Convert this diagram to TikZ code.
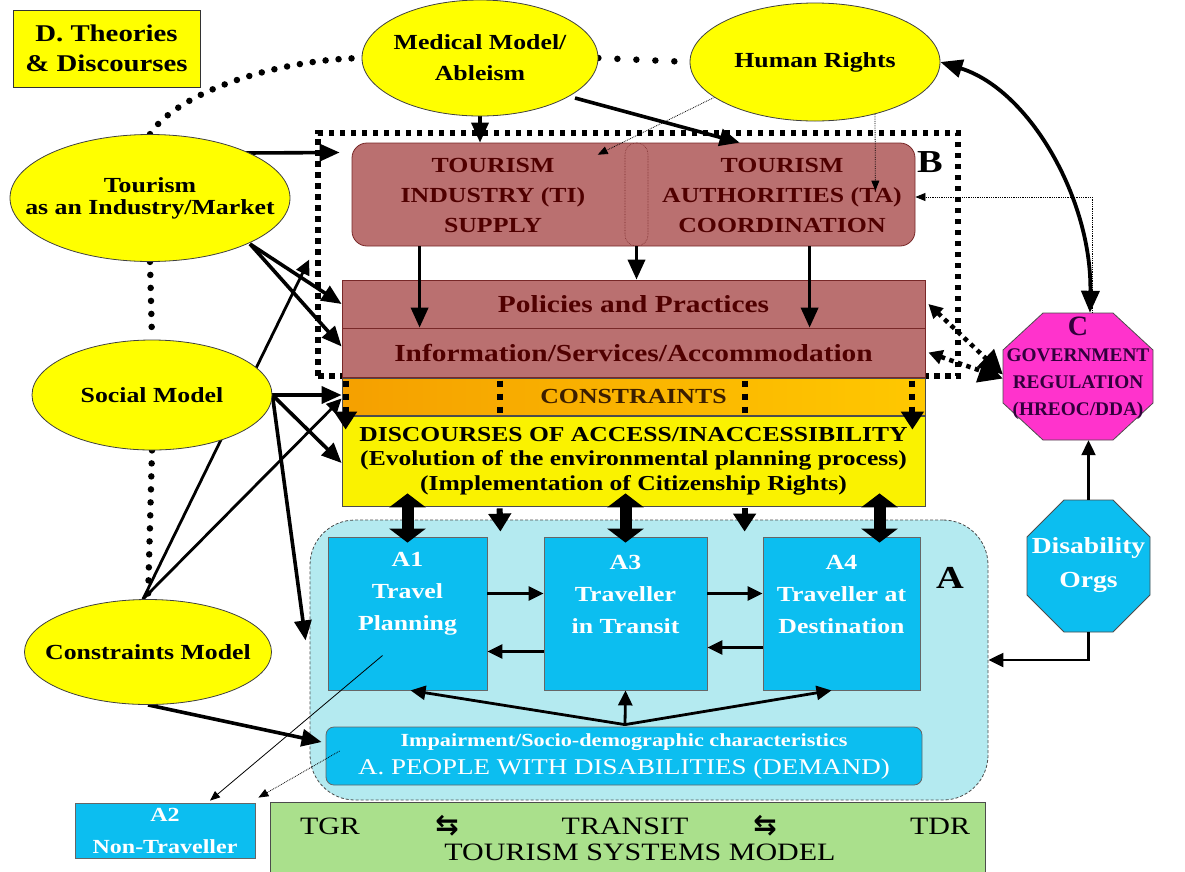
\documentclass[tikz,border=0pt]{standalone}
\usepackage{fontspec}
\setmainfont{Liberation Serif}[FakeStretch=1.2]
\newfontfamily\narrowserif{Liberation Serif}
\newfontfamily\symfont{DejaVu Sans}
\usetikzlibrary{arrows.meta,shapes.geometric,calc}
\pgfdeclarelayer{back}
\pgfdeclarelayer{mid}
\pgfsetlayers{back,mid,main}
\newcommand\myfs[2]{\fontsize{#1}{#2}\selectfont}
\definecolor{ylw}{RGB}{255,255,0}
\definecolor{rosef}{RGB}{186,112,112}
\definecolor{rosed}{RGB}{120,40,40}
\definecolor{maroontxt}{RGB}{80,0,0}
\definecolor{orngL}{RGB}{245,160,0}
\definecolor{orngR}{RGB}{255,200,0}
\definecolor{dyel}{RGB}{250,242,0}
\definecolor{lcyan}{RGB}{180,234,240}
\definecolor{cyanbox}{RGB}{12,190,240}
\definecolor{magc}{RGB}{255,51,204}
\definecolor{grnf}{RGB}{170,224,140}
\definecolor{purtxt}{RGB}{50,0,60}
\definecolor{cstxt}{RGB}{60,30,0}
\begin{document}
\begin{tikzpicture}[x=1pt,y=-1pt,
  ell/.style={ellipse,draw=black!75,line width=0.8pt,fill=ylw,inner sep=0pt},
  elltext/.style={align=center,inner sep=0pt},
  rosebox/.style={draw=rosed,line width=0.8pt,fill=rosef,inner sep=0pt,text=maroontxt,align=center},
  cbox/.style={draw=black!60,line width=0.8pt,fill=cyanbox,inner sep=0pt},
  wtext/.style={text=white,align=center,inner sep=0pt},
  fat/.style={line width=3.6pt,-{Triangle[length=20pt,width=17pt]}},
  medarrow/.style={line width=2.8pt,-{Triangle[length=15pt,width=14pt]}},
  thinarrow/.style={line width=0.8pt,-{Triangle[length=10pt,width=8pt]}},
  thindot/.style={line width=0.8pt,densely dotted,-{Triangle[length=10pt,width=8pt]}},
  bigdots/.style={line width=6.5pt,line cap=round,dash pattern=on 0pt off 13pt},
  sqdots/.style={line width=5.5pt,dash pattern=on 5.5pt off 5.5pt},
  cdots/.style={line width=6pt,dash pattern=on 6pt off 7pt},
  cdtip/.style={-{Triangle[length=18pt,width=22pt]}},
  blockarrow/.style={line width=12pt,{Triangle[length=14pt,width=36pt]}-{Triangle[length=14pt,width=36pt]}},
  cdarrow/.style={line width=4.5pt,dash pattern=on 4.5pt off 4.5pt,{Triangle[length=14pt,width=14pt]}-{Triangle[length=24pt,width=24pt]}},
]
\useasboundingbox (0,0) rectangle (1185,871);

\begin{pgfonlayer}{back}
\fill[white] (0,0) rectangle (1185,871);
% B dotted region
\node[draw,sqdots,minimum width=640,minimum height=243,inner sep=0pt] (B) at (638,254.5) {};
% A region
\node[draw=black!70,fill=lcyan,line width=0.8pt,dash pattern=on 3pt off 2pt,rounded corners=45pt,
      minimum width=678,minimum height=280,inner sep=0pt] (AR) at (649,660) {};
% Tourism industry / authorities
\node[rosebox,rounded corners=15pt,minimum width=563,minimum height=103] (TB) at (633.5,194.5) {};
\node[draw=rosed,densely dotted,line width=0.6pt,rounded corners=11pt,minimum width=23,minimum height=103,inner sep=0pt] (DV) at (636.5,194.5) {};
\node[text=maroontxt,align=center,font={\bfseries\myfs{21.5}{30}}] (TI) at (493,195) {TOURISM\\INDUSTRY (TI)\\SUPPLY};
\node[text=maroontxt,align=center,font={\bfseries\myfs{21.5}{30}}] (TA) at (782,195) {TOURISM\\AUTHORITIES (TA)\\COORDINATION};
% Policies / Information
\node[rosebox,minimum width=583,minimum height=48,font={\bfseries\myfs{24.5}{26}}] (PP) at (633.5,304) {Policies and Practices};
\node[rosebox,minimum width=583,minimum height=49,font={\bfseries\myfs{24.5}{26}}] (IS) at (633.5,352.5) {Information/Services/Accommodation};
% Constraints
\node[draw=black!70,line width=0.8pt,left color=orngL,right color=orngR,minimum width=583,minimum height=37,
      inner sep=0pt,text=cstxt,font={\bfseries\myfs{21.5}{24}}] (CS) at (633.5,396.5) {CONSTRAINTS};
% Discourses
\node[draw=black!70,line width=0.8pt,fill=dyel,minimum width=583,minimum height=90,inner sep=0pt,align=center,
      font={\bfseries\myfs{21.3}{24.5}}] (DS) at (633.5,461)
  {DISCOURSES OF ACCESS/INACCESSIBILITY\\(Evolution of the environmental planning process)\\(Implementation of Citizenship Rights)};
% A boxes
\node[cbox,minimum width=159,minimum height=153] (A1) at (407.5,613.5) {};
\node[cbox,minimum width=163,minimum height=153] (A3) at (625.5,613.5) {};
\node[cbox,minimum width=157,minimum height=153] (A4) at (841.5,613.5) {};
\node[wtext,font={\bfseries\myfs{21.5}{32}}] (A1t) at (407.5,594) {A1\\Travel\\Planning};
\node[wtext,font={\bfseries\myfs{21.5}{32}}] (A3t) at (625.5,594) {A3\\Traveller\\in Transit};
\node[wtext,font={\bfseries\myfs{21.5}{32}}] (A4t) at (841.5,594) {A4\\Traveller at\\Destination};
% Demand box
\node[cbox,rounded corners=8pt,minimum width=596,minimum height=58] (DM) at (624,756) {};
\node[wtext,font={\bfseries\myfs{18.5}{20}}] (DM1) at (624,742) {Impairment/Socio-demographic characteristics};
\node[wtext,font={\myfs{22.5}{24}}] (DM2) at (624,769) {A. PEOPLE WITH DISABILITIES (DEMAND)};
% A2
\node[cbox,minimum width=180,minimum height=55,text=white,align=center,font={\bfseries\myfs{20}{32}}] (A2) at (165,830.5) {A2\\Non-Traveller};
% Tourism systems model
\node[draw=black!70,line width=0.8pt,fill=grnf,minimum width=715,minimum height=70,inner sep=0pt] (TS) at (627.5,837) {};
\node[font={\myfs{25}{27}}] (tgr) at (330,826) {TGR};
\node[font={\symfont\bfseries\myfs{28}{28}}] (sw1) at (447,826) {⇆};
\node[font={\myfs{25}{27}}] (trn) at (625,826) {TRANSIT};
\node[font={\symfont\bfseries\myfs{28}{28}}] (sw2) at (765,826) {⇆};
\node[font={\myfs{25}{27}}] (tdr) at (940,826) {TDR};
\node[font={\myfs{25}{27}}] (tsm) at (640,852) {TOURISM SYSTEMS MODEL};
% C octagon
\draw[fill=magc,draw=black!70,line width=0.8pt] (1043,313) -- (1113,313) -- (1153,350) -- (1153,403) -- (1113,440) -- (1043,440) -- (1003,403) -- (1003,350) -- cycle;
\node[minimum width=150,minimum height=127,inner sep=0pt] (C) at (1078,376.5) {};
\node[text=purtxt,font={\narrowserif\bfseries\myfs{28}{28}},inner sep=0pt] (Cl) at (1078,326) {C};
\node[text=purtxt,align=center,inner sep=0pt,font={\narrowserif\bfseries\myfs{19.3}{27}}] (Ct) at (1078,384) {GOVERNMENT\\REGULATION\\(HREOC/DDA)};
% Disability Orgs octagon
\draw[fill=cyanbox,draw=black!70,line width=0.8pt] (1064,500) -- (1113,500) -- (1150,537) -- (1150,595) -- (1113,632) -- (1064,632) -- (1027,595) -- (1027,537) -- cycle;
\node[minimum width=123,minimum height=132,inner sep=0pt] (DO) at (1088.5,566) {};
\node[wtext,font={\bfseries\myfs{23}{34}}] (DOt) at (1088.5,565) {Disability\\Orgs};
% D box
\node[draw=black!80,fill=ylw,line width=0.8pt,minimum width=187,minimum height=77,inner sep=0pt,align=center,
      font={\bfseries\myfs{24}{30}}] (D) at (106.5,48.5) {D. Theories\\\& Discourses};
% labels
\node[font={\bfseries\myfs{32}{32}}] (Blab) at (930,162) {B};
\node[font={\bfseries\myfs{32}{32}}] (Alab) at (950,578) {A};
\end{pgfonlayer}

% ellipses (top layer)
\node[ell,minimum width=236,minimum height=116] (MM) at (480,58) {};
\node[ell,minimum width=250,minimum height=118] (HR) at (815,62) {};
\node[ell,minimum width=280,minimum height=127] (TIM) at (150,198) {};
\node[ell,minimum width=240,minimum height=110] (SM) at (152,395) {};
\node[ell,minimum width=247,minimum height=105] (CM) at (148,652) {};
\node[elltext,font={\bfseries\myfs{21.5}{31}}] (MMt) at (MM.center) {Medical Model/\\Ableism};
\node[elltext,font={\bfseries\myfs{21.5}{24}}] (HRt) at (HR.center) {Human Rights};
\node[elltext,font={\bfseries\myfs{21.5}{22}}] (TIMt) at (TIM.center) {Tourism\\as an Industry/Market};
\node[elltext,font={\bfseries\myfs{21.5}{24}}] (SMt) at (SM.center) {Social Model};
\node[elltext,font={\bfseries\myfs{21.5}{24}}] (CMt) at (CM.center) {Constraints Model};

\begin{pgfonlayer}{mid}
% dotted theory links
\draw[bigdots] (TIM.north) .. controls (175,95) and (270,60) .. (MM.west);
\draw[bigdots,dash pattern=on 0pt off 19pt] (MM.east) -- (HR.west);
\draw[bigdots] (TIM.south) -- (SM.north);
\draw[bigdots] (SM.south) -- (CM.north);
% human rights <-> government
\draw[line width=3.8pt,{Triangle[length=22pt,width=18pt]}-{Triangle[length=22pt,width=18pt]}]
  (HR.east) .. controls (1030,90) and (1092,200) .. ($(C.north)+(12,0)$);
\coordinate (cor) at (1092,197);
\draw[thindot] ($(C.north)+(14,0)$) -- (cor) -- (TB.east |- cor);
\draw[thindot] ($(HR.center)+(60,52)$) -- ($(TB.north east)+(-40,48)$);
\draw[thindot] ($(HR.center)+(-100,35)$) -- ($(DV.north west)+(-27,12)$);
% medical model
\draw[fat] (MM.south) -- (MM.south |- TB.north);
\draw[fat] ($(MM.center)+(95,40)$) -- ($(TB.north west)+(388,0)$);
% tourism as industry
\draw[fat] ($(TIM.center)+(95,-45)$) -- ($(TB.west)+(-12,-42)$);
\draw[fat] ($(TIM.center)+(100,46)$) -- (PP.west);
\draw[fat] ($(TIM.center)+(100,46)$) -- ($(IS.west)+(0,-6)$);
% constraints model
\draw[medarrow] ($(CM.north)+(-5,0)$) -- ($(B.west)+(-6,5)$);
\draw[medarrow] ($(CM.north)+(-5,0)$) -- ($(CS.west)+(0,2)$);
\draw[fat] (CM.south) -- ($(DM.west)+(-4,-14)$);
% social model
\draw[fat] (SM.east) -- (CS.west |- SM.east);
\draw[fat] (SM.east) -- ($(DS.west)+(0,2)$);
\draw[fat] (SM.east) -- ($(A1.west)+(-22,27)$);
% B internal arrows
\draw[fat] ($(TB.south west)+(68,0)$) -- ($(IS.north west)+(78,0)$);
\draw[fat] (DV.south) -- (DV.south |- PP.north);
\draw[fat] ($(TB.south west)+(458,0)$) -- ($(IS.north west)+(468,0)$);
% constraints dotted arrows
\draw[cdots,cdtip] ($(CS.north west)+(4,3)$) -- ($(DS.north west)+(4,14)$);
\draw[cdots,cdtip] ($(CS.north east)+(-13,3)$) -- ($(DS.north east)+(-13,14)$);
\draw[cdots] ($(CS.north west)+(158,3)$) -- ($(CS.south west)+(158,0)$);
\draw[cdots] ($(CS.north west)+(403,3)$) -- ($(CS.south west)+(403,0)$);
\draw[cdots,cdtip] ($(DS.south west)+(158,2)$) -- ($(A1.north east)+(13,-5)$);
\draw[cdots,cdtip] ($(DS.south west)+(403,2)$) -- ($(A4.north west)+(-18,-5)$);
% block double arrows
\coordinate (a1top) at ($(A1.north)+(0,0)$);
\coordinate (a3top) at ($(A3.north)+(0,0)$);
\coordinate (a4top) at ($(A4.north)+(38,0)$);
\draw[blockarrow] ($(a1top |- DS.south)+(0,-13)$) -- ($(a1top)+(0,6)$);
\draw[blockarrow] ($(a3top |- DS.south)+(0,-13)$) -- ($(a3top)+(0,6)$);
\draw[blockarrow] ($(a4top |- DS.south)+(0,-13)$) -- ($(a4top)+(0,6)$);
% between A boxes
\draw[medarrow] ($(A1.east)+(0,-20)$) -- ($(A3.west)+(0,-20)$);
\draw[medarrow] ($(A3.west)+(0,38)$) -- ($(A1.east)+(0,38)$);
\draw[medarrow] ($(A3.east)+(0,-20)$) -- ($(A4.west)+(0,-20)$);
\draw[medarrow] ($(A4.west)+(0,34)$) -- ($(A3.east)+(0,34)$);
% demand to A boxes
\coordinate (jn) at ($(DM.north)+(1,-2)$);
\draw[medarrow] (jn) -- ($(A1.south)+(3,0)$);
\draw[medarrow] (jn) -- (A3.south);
\draw[medarrow] (jn) -- ($(A4.south)+(-10,0)$);
% non-traveller
\draw[thinarrow] ($(A1.center)+(-25,42)$) -- ($(A2.north)+(45,-2)$);
\draw[thindot] ($(DM.west)+(14,-5)$) -- ($(A2.north east)+(3,-5)$);
% B <-> C
\draw[cdarrow] ($(PP.east)+(3,0)$) -- ($(C.west)+(0,-2)$);
\draw[cdarrow] ($(IS.east)+(3,0)$) -- ($(C.west)+(0,2)$);
% disability orgs
\draw[medarrow,line width=2.2pt] (DO.north) -- (DO.north |- C.south);
\draw[medarrow,line width=2.2pt] (DO.south) |- (AR.east);
\end{pgfonlayer}
\end{tikzpicture}
\end{document}
